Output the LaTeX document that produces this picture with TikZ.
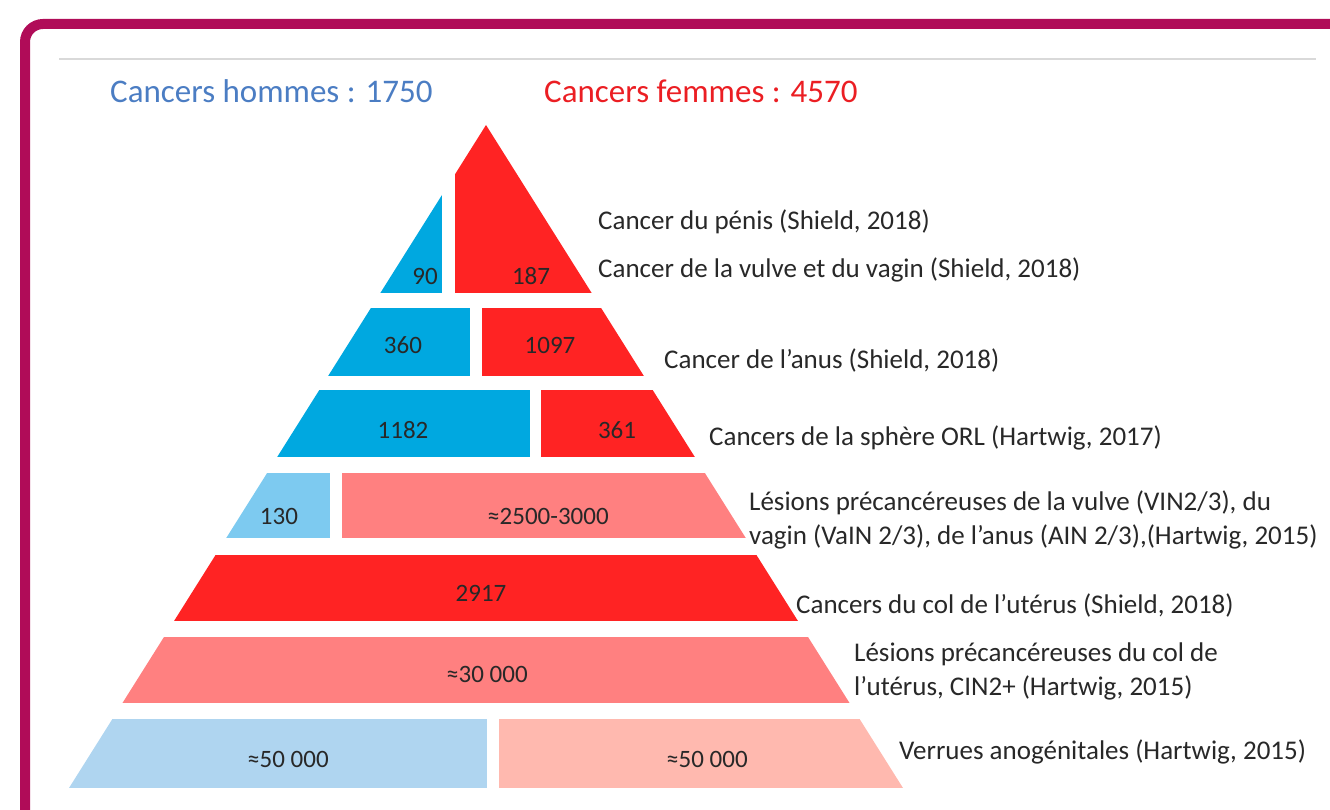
\documentclass[tikz,border=0pt]{standalone}
\usepackage{fontspec}
\setmainfont{Carlito}
\usetikzlibrary{positioning}
\definecolor{framecolor}{RGB}{176,12,88}
\definecolor{rulecolor}{RGB}{217,217,217}
\definecolor{mencolor}{RGB}{0,168,224}
\definecolor{womencolor}{RGB}{255,35,35}
\definecolor{menlight}{RGB}{125,202,240}
\definecolor{womenlight}{RGB}{255,128,128}
\definecolor{menpale}{RGB}{175,213,240}
\definecolor{womenpale}{RGB}{255,185,175}
\definecolor{menhead}{RGB}{75,125,195}
\definecolor{womenhead}{RGB}{235,30,35}
\definecolor{labelcolor}{RGB}{40,40,40}

\begin{document}
\begin{tikzpicture}[
    x=1pt, y=-1pt,
    heading/.style={anchor=west, inner sep=0pt, font=\fontsize{33}{40}\selectfont},
    count/.style={inner sep=0pt, font=\fontsize{25}{30}\selectfont, text=labelcolor},
    caption/.style={anchor=west, inner sep=0pt, align=left, font=\fontsize{27}{34}\selectfont, text=labelcolor}
]
    \useasboundingbox (0,0) rectangle (1330,810);

    % Frame
    \begin{scope}
        \clip (0,0) rectangle (1330,810);
        \draw[framecolor, line width=10pt, rounded corners=18pt] (25,24) rectangle (1350,840);
    \end{scope}
    \draw[rulecolor, line width=1.5pt] (59,59) -- (1316,59);

    % Headings
    \node[heading, text=menhead] (men) at (110,91) {Cancers hommes : 1750};
    \node[heading, text=womenhead] (women) at (544,91) {Cancers femmes : 4570};

    % Pyramid bands
    \begin{scope}
        \clip (486,125) -- (903,788) -- (69,788) -- cycle;
        \fill[mencolor] (300,125) rectangle (442,293);
        \fill[womencolor] (455,100) rectangle (700,293);
        \fill[mencolor] (0,308) rectangle (470,376);
        \fill[womencolor] (482,308) rectangle (1000,376);
        \fill[mencolor] (0,390) rectangle (530,457);
        \fill[womencolor] (541,390) rectangle (1000,457);
        \fill[menlight] (0,473) rectangle (330,538);
        \fill[womenlight] (342,473) rectangle (1000,538);
        \fill[womencolor] (0,555) rectangle (1000,621);
        \fill[womenlight] (0,637) rectangle (1000,703);
        \fill[menpale] (0,719) rectangle (487,788);
        \fill[womenpale] (499,719) rectangle (1000,788);
    \end{scope}

    % Counts
    \node[count] (c90) at (425,276) {90};
    \node[count] (c187) at (531,276) {187};
    \node[count] (c360) at (403,345) {360};
    \node[count] (c1097) at (550,345) {1097};
    \node[count] (c1182) at (403,430) {1182};
    \node[count] (c361) at (617,430) {361};
    \node[count] (c130) at (279,516) {130};
    \node[count] (c2500) at (548,516) {≈2500-3000};
    \node[count] (c2917) at (481,593) {2917};
    \node[count] (c30000) at (487,674) {≈30 000};
    \node[count] (c50000m) at (288,759) {≈50 000};
    \node[count] (c50000w) at (707,759) {≈50 000};

    % Captions
    \node[caption] (penis) at (598,222) {Cancer du pénis (Shield, 2018)};
    \node[caption] (vulve) at (598,270) {Cancer de la vulve et du vagin (Shield, 2018)};
    \node[caption] (anus) at (664,360) {Cancer de l’anus (Shield, 2018)};
    \node[caption] (orl) at (709,438) {Cancers de la sphère ORL (Hartwig, 2017)};
    \node[caption] (vin) at (749,520) {Lésions précancéreuses de la vulve (VIN2/3), du\\vagin (VaIN 2/3), de l’anus (AIN 2/3),(Hartwig, 2015)};
    \node[caption] (col) at (796,605) {Cancers du col de l’utérus (Shield, 2018)};
    \node[caption] (cin) at (854,671) {Lésions précancéreuses du col de\\l’utérus, CIN2+ (Hartwig, 2015)};
    \node[caption] (verrues) at (899,752) {Verrues anogénitales (Hartwig, 2015)};
\end{tikzpicture}
\end{document}
